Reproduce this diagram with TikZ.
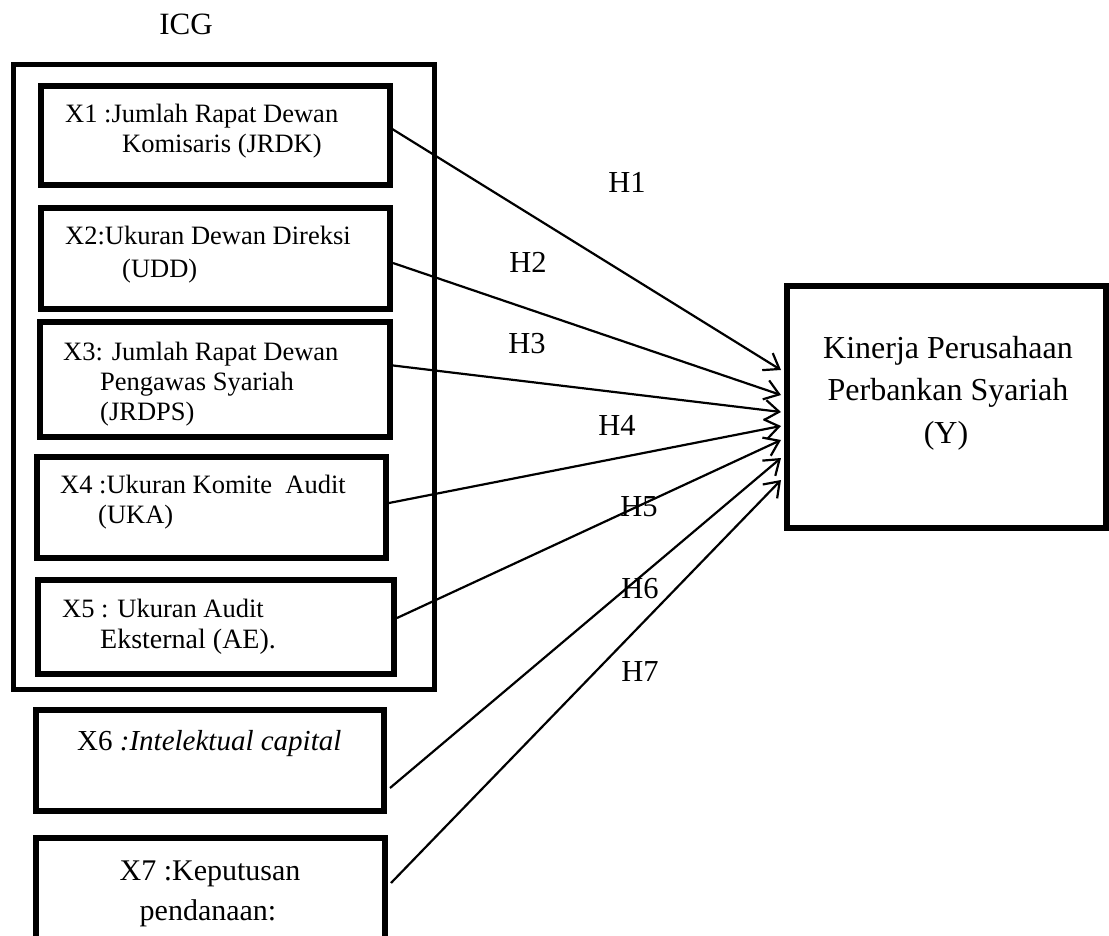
\documentclass[tikz,border=0pt]{standalone}
\usepackage{fontspec}
\setmainfont{Liberation Serif}
\usetikzlibrary{arrows.meta}
\tikzset{
  box/.style={draw, line width=6pt, inner sep=0pt, rectangle},
  grp/.style={draw, line width=5pt, inner sep=0pt, rectangle},
  txt/.style={inner sep=0pt, anchor=base west, font=\fontsize{26.5}{30}\selectfont},
  ctxt/.style={inner sep=0pt, anchor=base, font=\fontsize{30}{34}\selectfont},
  ytxt/.style={inner sep=0pt, anchor=base, font=\fontsize{32}{38}\selectfont},
  hlab/.style={inner sep=0pt, font=\fontsize{30.5}{34}\selectfont},
  arr/.style={line width=2.2pt, -{Straight Barb[length=14pt,width=20pt,line width=2.2pt]}}
}
\begin{document}
\begin{tikzpicture}[x=1pt,y=-1pt]
\useasboundingbox (0,0) rectangle (1109,936);
% group box
\node[grp, minimum width=421pt, minimum height=625pt] (icg) at (224,377) {};
\node[hlab, font=\fontsize{31}{34}\selectfont] (icgl) at (186,24) {ICG};
% boxes
\node[box, minimum width=349pt, minimum height=99pt] (x1) at (215.5,135.5) {};
\node[box, minimum width=349pt, minimum height=101pt] (x2) at (215.5,258.5) {};
\node[box, minimum width=350pt, minimum height=115pt] (x3) at (215,379.5) {};
\node[box, minimum width=349pt, minimum height=101pt] (x4) at (211.5,507.5) {};
\node[box, minimum width=356pt, minimum height=94pt] (x5) at (216,627) {};
\node[box, minimum width=348pt, minimum height=101pt] (x6) at (210,760.5) {};
\node[box, minimum width=349pt, minimum height=107pt] (x7) at (210.5,891.5) {};
\node[box, minimum width=319pt, minimum height=242pt] (y) at (946.5,407) {};
% texts
\node[txt] (x1a) at (65,123) {X1 :Jumlah Rapat Dewan};
\node[txt] (x1b) at (122,153) {Komisaris (JRDK)};
\node[txt] (x2a) at (65,245) {X2:Ukuran Dewan Direksi};
\node[txt] (x2b) at (122,277) {(UDD)};
\node[txt] (x3a) at (63,360) {X3: Jumlah Rapat Dewan};
\node[txt] (x3b) at (100,390) {Pengawas Syariah};
\node[txt] (x3c) at (100,420) {(JRDPS)};
\node[txt] (x4a) at (60,493) {X4 :Ukuran Komite\ \ Audit};
\node[txt] (x4b) at (98,523) {(UKA)};
\node[txt] (x5a) at (62,617) {X5 : Ukuran Audit};
\node[txt, font=\fontsize{28}{32}\selectfont] (x5b) at (100,648) {Eksternal (AE).};
\node[txt, font=\fontsize{29}{32}\selectfont] (x6a) at (77,750) {X6 \textit{:Intelektual capital}};
\node[ctxt] (x7a) at (210,880) {X7 :Keputusan};
\node[ctxt] (x7b) at (208,920) {pendanaan:};
\node[ytxt] (ya) at (948,358) {Kinerja Perusahaan};
\node[ytxt] (yb) at (948,400) {Perbankan Syariah};
\node[ytxt] (yc) at (946,443) {(Y)};
% arrows
\draw[arr] ([yshift=8.5pt,xshift=-4pt]x1.east) -- ([yshift=37pt,xshift=-3pt]y.west);
\draw[arr] ([yshift=-4.5pt]x2.east) -- ([yshift=12pt,xshift=-3pt]y.west);
\draw[arr] ([yshift=14.5pt,xshift=-4pt]x3.east) -- ([yshift=-5pt,xshift=-3pt]y.west);
\draw[arr] ([yshift=4.5pt]x4.east) -- ([yshift=-19pt,xshift=-3pt]y.west);
\draw[arr] ([yshift=9pt]x5.east) -- ([yshift=-33pt,xshift=-3pt]y.west);
\draw[arr] ([yshift=-27.5pt,xshift=3pt]x6.east) -- ([yshift=-51pt,xshift=-3pt]y.west);
\draw[arr] ([yshift=8.5pt,xshift=3pt]x7.east) -- ([yshift=-73pt,xshift=-3pt]y.west);
% labels
\node[hlab] (h1) at (627,182) {H1};
\node[hlab] (h2) at (528,262) {H2};
\node[hlab] (h3) at (527,344) {H3};
\node[hlab] (h4) at (617,425) {H4};
\node[hlab] (h5) at (639,507) {H5};
\node[hlab] (h6) at (640,589) {H6};
\node[hlab] (h7) at (640,672) {H7};
\end{tikzpicture}
\end{document}
